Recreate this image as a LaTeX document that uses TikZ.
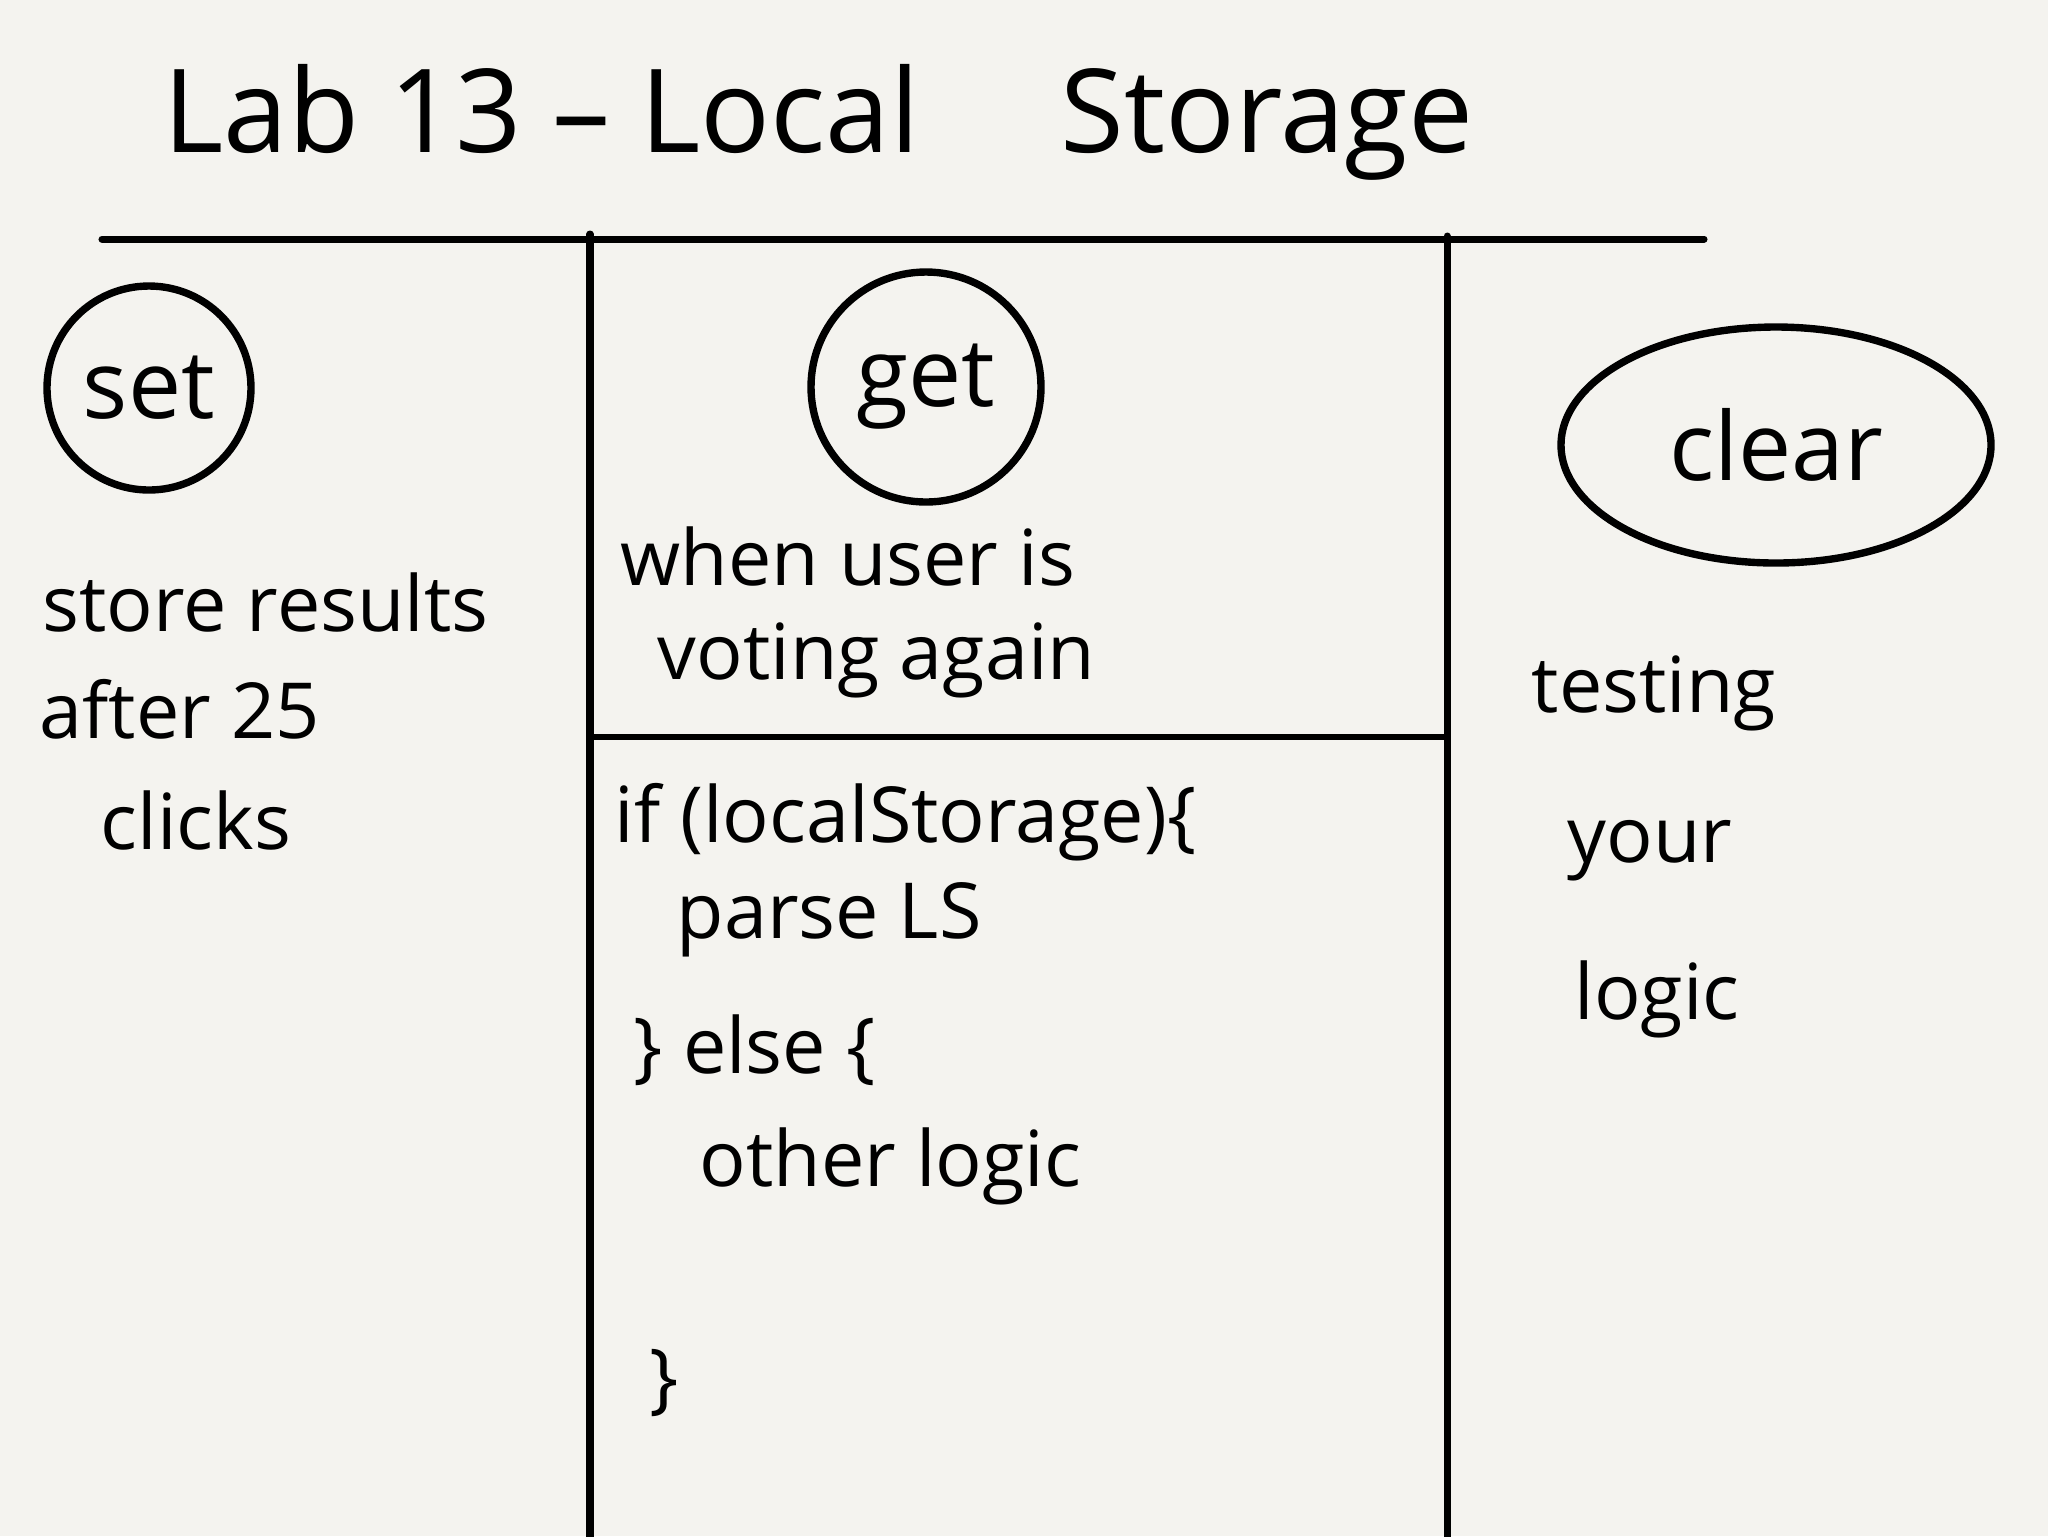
\documentclass[tikz,border=0pt]{standalone}
\usepackage{fontspec}
\setmainfont{Open Sans}
\usetikzlibrary{shapes.geometric}
\definecolor{paper}{HTML}{F4F3EF}
\tikzset{
  rule/.style={line width=2pt, line cap=round},
  ring/.style={draw, line width=2.1pt, inner sep=0pt},
  hdr/.style={font=\fontsize{27}{31}\selectfont},
  txt/.style={anchor=base west, inner sep=0pt, font=\fontsize{22}{26}\selectfont},
  ttl/.style={anchor=base west, inner sep=0pt, font=\fontsize{33}{38}\selectfont}
}
\begin{document}
\begin{tikzpicture}[x=0.1mm, y=-0.1mm]
\fill[paper] (0,0) rectangle (2048,1536);
\useasboundingbox (0,0) rectangle (2048,1536);
% title
\node[ttl] (t1) at (163,152) {Lab 13 – Local};
\node[ttl] (t2) at (1060,152) {Storage};
% grid lines
\coordinate (hl) at (102,239);
\coordinate (hr) at (1704,239);
\coordinate (v1t) at (590,234);
\coordinate (v1b) at (590,1540);
\coordinate (v2t) at (1447,236);
\coordinate (v2b) at (1447,1540);
\coordinate (ml) at (590,737);
\coordinate (mr) at (1446,737);
\draw[rule] (hl) -- (hr);
\draw[rule] (v1t) -- (v1b);
\draw[rule] (v2t) -- (v2b);
\draw[rule, line width=1.5pt] (ml) -- (mr);
% headers
\node[ring, circle, minimum size=20.4mm, hdr] (set) at (149,388) {set};
\node[ring, circle, minimum size=23mm, hdr] (get) at (926,387) {get};
\node[ring, ellipse, minimum width=43mm, minimum height=23.6mm, hdr] (clear) at (1776,445) {clear};
% left column
\node[txt] (s1) at (42,631) {store results};
\node[txt] (s2) at (39,738) {after 25};
\node[txt] (s3) at (100,849) {clicks};
% middle column
\node[txt] (g1) at (620,585) {when user is};
\node[txt] (g2) at (657,679) {voting again};
\node[txt] (c1) at (614,842) {if (localStorage)\{};
\node[txt] (c2) at (676,938) {parse LS};
\node[txt] (c3) at (633,1073) {\} else \{};
\node[txt] (c4) at (699,1186) {other logic};
\node[txt] (c5) at (649,1404) {\}};
% right column
\node[txt] (r1) at (1531,712) {testing};
\node[txt] (r2) at (1567,862) {your};
\node[txt] (r3) at (1574,1019) {logic};
\end{tikzpicture}
\end{document}
